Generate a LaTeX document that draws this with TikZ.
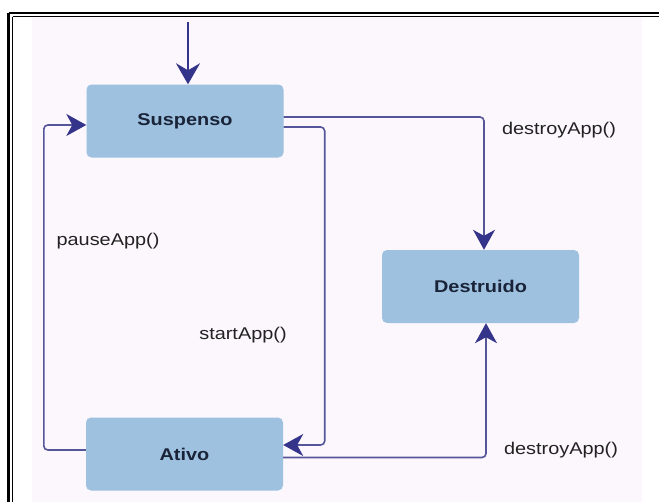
\documentclass[tikz,border=0pt]{standalone}
\usepackage{fontspec}
\setmainfont{Liberation Sans}[FakeStretch=1.17]
\usetikzlibrary{arrows.meta}

\definecolor{pagebg}{HTML}{FCF7FC}
\definecolor{boxfill}{HTML}{9EC1E0}
\definecolor{flowline}{HTML}{55559A}
\definecolor{headcol}{HTML}{34348A}
\definecolor{labeltext}{HTML}{222222}
\definecolor{statetext}{HTML}{1A2438}

\tikzset{
  state/.style={rectangle, rounded corners=5pt, fill=boxfill, draw=none,
    minimum width=197pt, minimum height=73pt, inner sep=0pt,
    font=\fontsize{17}{20}\selectfont\bfseries, text=statetext},
  translabel/.style={font=\fontsize{17}{20}\selectfont, text=labeltext, inner sep=0pt},
  flow/.style={draw=flowline, line width=1.6pt, rounded corners=4pt,
    -{Stealth[length=20pt,width=22pt,inset=6pt,color=headcol]}},
  entry/.style={draw=headcol, line width=2.2pt,
    -{Stealth[length=21pt,width=24pt,inset=7pt,color=headcol]}},
}

\begin{document}
\begin{tikzpicture}[x=1pt, y=-1pt]
  \useasboundingbox (0,0) rectangle (659,501);

  % tinted page area
  \fill[pagebg] (32,17) rectangle (642,520);

  % double frame, open to the right and bottom
  \draw[black, line width=2.6pt] (8.5,13) -- (700,13);
  \draw[black, line width=2.6pt] (8.5,13) -- (8.5,520);
  \draw[black, line width=1.4pt] (12.5,16.5) -- (700,16.5);
  \draw[black, line width=1.4pt] (12.5,16.5) -- (12.5,520);

  % states
  \node[state] (sus) at (185,121) {Suspenso};
  \node[state] (des) at (480.5,286.5) {Destruido};
  \node[state] (ati) at (184.5,454) {Ativo};

  % initial transition
  \coordinate (init) at (188,22);
  \draw[entry] (init) -- (init |- sus.north);

  % transitions
  \draw[flow] ([yshift=4pt]sus.east) -| ([xshift=3.5pt]des.north);
  \draw[flow] ([yshift=-6pt]sus.east) -- ++(41pt,0) |- ([yshift=9pt]ati.east);
  \draw[flow] ([yshift=4pt]ati.west) -- ++(-42pt,0) |- ([yshift=-4pt]sus.west);
  \draw[flow] ([yshift=-3.5pt]ati.east) -| ([xshift=5.5pt]des.south);

  % transition labels
  \node[translabel] (lbldtop) at (559,130) {destroyApp()};
  \node[translabel] (lblpause) at (108,241) {pauseApp()};
  \node[translabel] (lblstart) at (243,335) {startApp()};
  \node[translabel] (lbldbot) at (561,450) {destroyApp()};
\end{tikzpicture}
\end{document}
